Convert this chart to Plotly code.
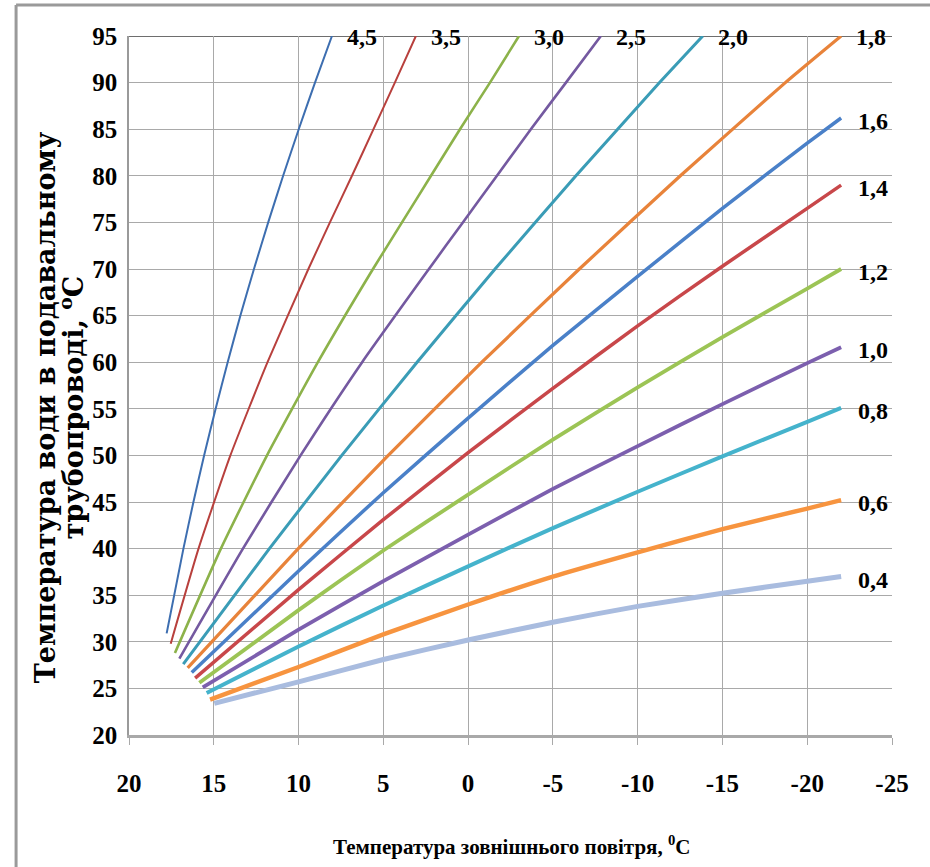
import plotly.graph_objects as go

# ---------------- data ----------------
labels = ["4,5", "3,5", "3,0", "2,5", "2,0", "1,8", "1,6", "1,4", "1,2", "1,0", "0,8", "0,6", "0,4"]

x_45 = [17.78, 16.79, 16.2, 15.57, 14.89, 14.18, 13.43, 12.63, 11.79, 10.91, 9.99, 9.03, 8.03]
y_45 = [30.9, 40, 45, 50, 55, 60, 65, 70, 75, 80, 85, 90, 95]

x_35 = [17.54, 15.9, 14.02, 11.83, 9.42, 8.15, 6.85, 5.58, 4.32, 3.08]
y_35 = [29.8, 40, 50, 60, 70, 75, 80, 85, 90, 95]

x_30 = [17.29, 14.58, 11.86, 8.86, 5.61, 3.9, 2.19, 0.48, -1.29, -3.0]
y_30 = [28.8, 40, 50, 60, 70, 75, 80, 85, 90, 95]

x_25 = [17.03, 13.28, 9.88, 6.25, 2.31, 0.31, -1.7, -3.7, -5.77, -7.83]
y_25 = [28.2, 40, 50, 60, 70, 75, 80, 85, 90, 95]

x_20 = [16.8, 11.72, 7.45, 3.01, -1.59, -6.36, -11.29, -13.84]
y_20 = [27.6, 40, 50, 60, 70, 80, 90, 95]

x_18 = [16.54, 10.02, 4.71, -0.81, -6.56, -12.52, -18.71, -22.0]
y_18 = [27.2, 40, 50, 60, 70, 80, 90, 95]

x_16 = [16.3, 10, 5, 0, -5, -10, -15, -20, -22]
y_16 = [26.7, 37.6, 46.0, 54.0, 61.8, 69.2, 76.5, 83.5, 86.2]

x_14 = [16.1, 10, 5, 0, -5, -10, -15, -20, -22]
y_14 = [26.1, 35.6, 43.1, 50.3, 57.2, 63.9, 70.3, 76.5, 79.0]

x_12 = [15.85, 10, 5, 0, -5, -10, -15, -20, -22]
y_12 = [25.6, 33.4, 39.8, 45.8, 51.7, 57.3, 62.7, 67.9, 70.0]

x_10 = [15.65, 10, 5, 0, -5, -10, -15, -20, -22]
y_10 = [25.1, 31.3, 36.5, 41.5, 46.4, 51.0, 55.5, 59.9, 61.6]

x_08 = [15.42, 10, 5, 0, -5, -10, -15, -20, -22]
y_08 = [24.5, 29.5, 33.9, 38.1, 42.2, 46.1, 49.9, 53.6, 55.1]

x_06 = [15.22, 10, 5, 0, -5, -10, -15, -20, -22]
y_06 = [23.8, 27.3, 30.8, 34.0, 37.0, 39.6, 42.1, 44.3, 45.2]

x_04 = [14.97, 10, 5, 0, -5, -10, -15, -20, -22]
y_04 = [23.4, 25.7, 28.1, 30.2, 32.1, 33.8, 35.2, 36.5, 37.0]

x_ticks = [20, 15, 10, 5, 0, -5, -10, -15, -20, -25]
x_tick_text = ["20", "15", "10", "5", "0", "-5", "-10", "-15", "-20", "-25"]
y_ticks = [20, 25, 30, 35, 40, 45, 50, 55, 60, 65, 70, 75, 80, 85, 90, 95]

x_title = "Температура зовнішнього повітря, <sup>0</sup>C"
y_title_1 = "Температура води в подавальному"
y_title_2 = "трубопроводі, <sup>o</sup>C"

# ---------------- styles ----------------
xs = [x_45, x_35, x_30, x_25, x_20, x_18, x_16, x_14, x_12, x_10, x_08, x_06, x_04]
ys = [y_45, y_35, y_30, y_25, y_20, y_18, y_16, y_14, y_12, y_10, y_08, y_06, y_04]
colors = ["#3d6eb0", "#b8403d", "#8cb24a", "#7459a0", "#3a9cb6", "#e8833a",
          "#4a80c8", "#c8474a", "#9cc455", "#7c5fae", "#45b3cc", "#f7943f", "#a9bcdf"]
widths = [2, 2, 2.6, 2.6, 3, 3.2, 3.5, 3.5, 3.8, 3.8, 4, 4.4, 5]

FONT = "Liberation Serif"

fig = go.Figure()
for xv, yv, c, w, name in zip(xs, ys, colors, widths, labels):
    fig.add_trace(go.Scatter(x=xv, y=yv, mode="lines", name=name,
                             line=dict(color=c, width=w, shape="spline", smoothing=0.5),
                             showlegend=False, hoverinfo="skip"))

annotations = []
for xv, yv, name in zip(xs, ys, labels):
    top = yv[-1] >= 95
    annotations.append(dict(x=xv[-1], y=yv[-1], xref="x", yref="y", text=name,
                            showarrow=False, xanchor="left", yanchor="middle",
                            xshift=13 if top else 15, yshift=-1 if top else -3,
                            font=dict(family=FONT, size=24, color="#000000", weight="bold")))

annotations.append(dict(x=0.502, y=-0.158, xref="paper", yref="paper", text=x_title,
                        showarrow=False, xanchor="center", yanchor="middle",
                        font=dict(family=FONT, size=21, color="#000000", weight="bold")))
annotations.append(dict(x=-0.110, y=0.469, xref="paper", yref="paper", text=y_title_1,
                        showarrow=False, xanchor="center", yanchor="middle", textangle=-90,
                        font=dict(family="DejaVu Serif", size=27, color="#000000", weight="bold")))
annotations.append(dict(x=-0.076, y=0.469, xref="paper", yref="paper", text=y_title_2,
                        showarrow=False, xanchor="center", yanchor="middle", textangle=-90,
                        font=dict(family="DejaVu Serif", size=27, color="#000000", weight="bold")))

shapes = [
    # darker top line at 95
    dict(type="line", xref="paper", yref="y", x0=0, x1=1, y0=95, y1=95,
         line=dict(color="#6e6e6e", width=2.2), layer="below"),
    # outer picture frame
    dict(type="line", xref="paper", yref="paper", x0=-0.148, x1=-0.148, y0=-0.20, y1=1.0443,
         line=dict(color="#9a9a9a", width=3)),
    dict(type="line", xref="paper", yref="paper", x0=-0.148, x1=1.06, y0=1.0443, y1=1.0443,
         line=dict(color="#9a9a9a", width=3)),
]

fig.update_layout(
    width=930, height=867,
    margin=dict(l=129, r=38, t=36, b=132),
    paper_bgcolor="white", plot_bgcolor="white",
    font=dict(family=FONT, color="#000000"),
    annotations=annotations, shapes=shapes,
)
fig.update_xaxes(range=[20, -25], tickvals=x_ticks, ticktext=x_tick_text,
                 showgrid=True, gridcolor="#a9a9a9", gridwidth=1.3, zeroline=False,
                 showline=True, linecolor="#a9a9a9", linewidth=2.5, mirror=False,
                 ticks="outside", ticklen=7, tickcolor="#a9a9a9", tickwidth=1.3,
                 ticklabelstandoff=17,
                 tickfont=dict(family=FONT, size=25, color="#000000", weight="bold"))
fig.update_yaxes(range=[20, 95], tickvals=y_ticks,
                 showgrid=True, gridcolor="#a9a9a9", gridwidth=1.3, zeroline=False,
                 showline=True, linecolor="#9a9a9a", linewidth=1.5,
                 ticks="", ticklabelstandoff=5,
                 tickfont=dict(family=FONT, size=25, color="#000000", weight="bold"))

fig.write_html("out.html")
